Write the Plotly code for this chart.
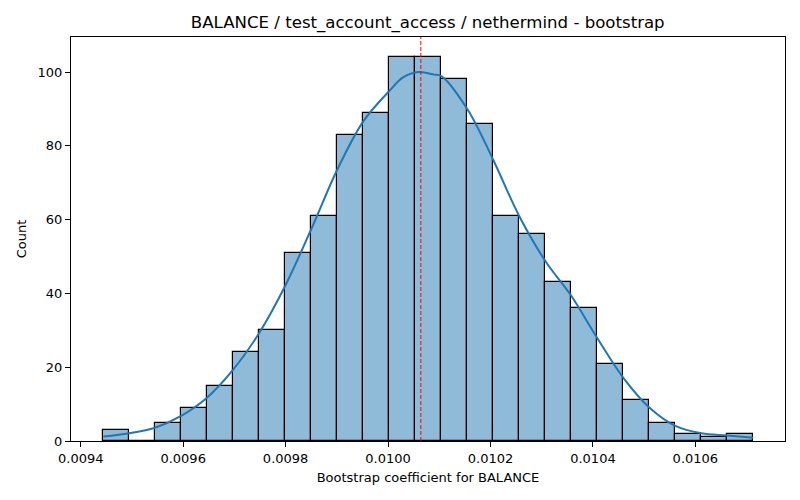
import numpy as np
import plotly.graph_objects as go

# histogram of 1000 bootstrap coefficients (25 bins)
bin_start = 0.009444
bin_width = 0.00005076
counts = [3, 0, 5, 9, 15, 24, 30, 51, 61, 83, 89, 104, 104,
          98, 86, 61, 56, 43, 36, 21, 11, 5, 2, 1, 2]

# kde curve
kde_x = [0.009444, 0.009495, 0.009545, 0.009596, 0.009647, 0.009698,
         0.009749, 0.009799, 0.009850, 0.009901, 0.009952, 0.010002,
         0.010030, 0.010060, 0.010090, 0.010104, 0.010155, 0.010205,
         0.010256, 0.010307, 0.010358, 0.010408, 0.010459, 0.010510,
         0.010561, 0.010612, 0.010662, 0.010713]
kde_y = [1.2, 2.1, 3.6, 6.8, 11.8, 19.4, 29.4, 42.0, 57.4, 73.6, 86.7, 94.8,
         98.6, 100.0, 99.3, 98.9, 89.9, 76.3, 61.0, 48.8, 39.3, 28.0, 17.2,
         9.1, 4.1, 2.1, 1.5, 0.9]

mean_coef = 0.010064

x_ticks = [0.0094, 0.0096, 0.0098, 0.0100, 0.0102, 0.0104, 0.0106]
y_ticks = [0, 20, 40, 60, 80, 100]

centers = bin_start + bin_width * (np.arange(len(counts)) + 0.5)

fig = go.Figure()
fig.add_trace(go.Bar(
    x=centers, y=counts, width=bin_width,
    marker=dict(color="rgba(31,119,180,0.5)",
                line=dict(color="black", width=1.2)),
    showlegend=False, hoverinfo="x+y"))
fig.add_trace(go.Scatter(
    x=kde_x, y=kde_y, mode="lines",
    line=dict(color="#1f77b4", width=2, shape="spline", smoothing=1.0),
    showlegend=False))
fig.add_vline(x=mean_coef, line=dict(color="red", width=1, dash="4px,2px"))

axis_style = dict(showline=True, linecolor="black", linewidth=1, mirror=True,
                  ticks="outside", ticklen=5, tickcolor="black",
                  showgrid=False, zeroline=False, automargin=False,
                  tickfont=dict(size=13, color="black"))

# page body has an 8px margin, so the figure is a bit smaller than the window
fig.update_layout(
    width=792, height=492,
    margin=dict(l=63, r=15, t=29, b=59),
    paper_bgcolor="white", plot_bgcolor="white",
    font=dict(family="DejaVu Sans", size=13, color="black"),
    bargap=0,
    title=dict(text="BALANCE / test_account_access / nethermind - bootstrap",
               x=0.530, xanchor="center", y=0.971, yanchor="middle",
               automargin=False, font=dict(size=16.6)),
    xaxis=dict(axis_style, range=[0.009381, 0.010775],
               tickvals=x_ticks, tickformat=".4f",
               title=dict(text="Bootstrap coefficient for BALANCE", standoff=8,
                          font=dict(size=13))),
    yaxis=dict(axis_style, range=[0, 109.5], tickvals=y_ticks,
               title=dict(text="Count", standoff=8, font=dict(size=13))),
)

fig.write_html("out.html")
